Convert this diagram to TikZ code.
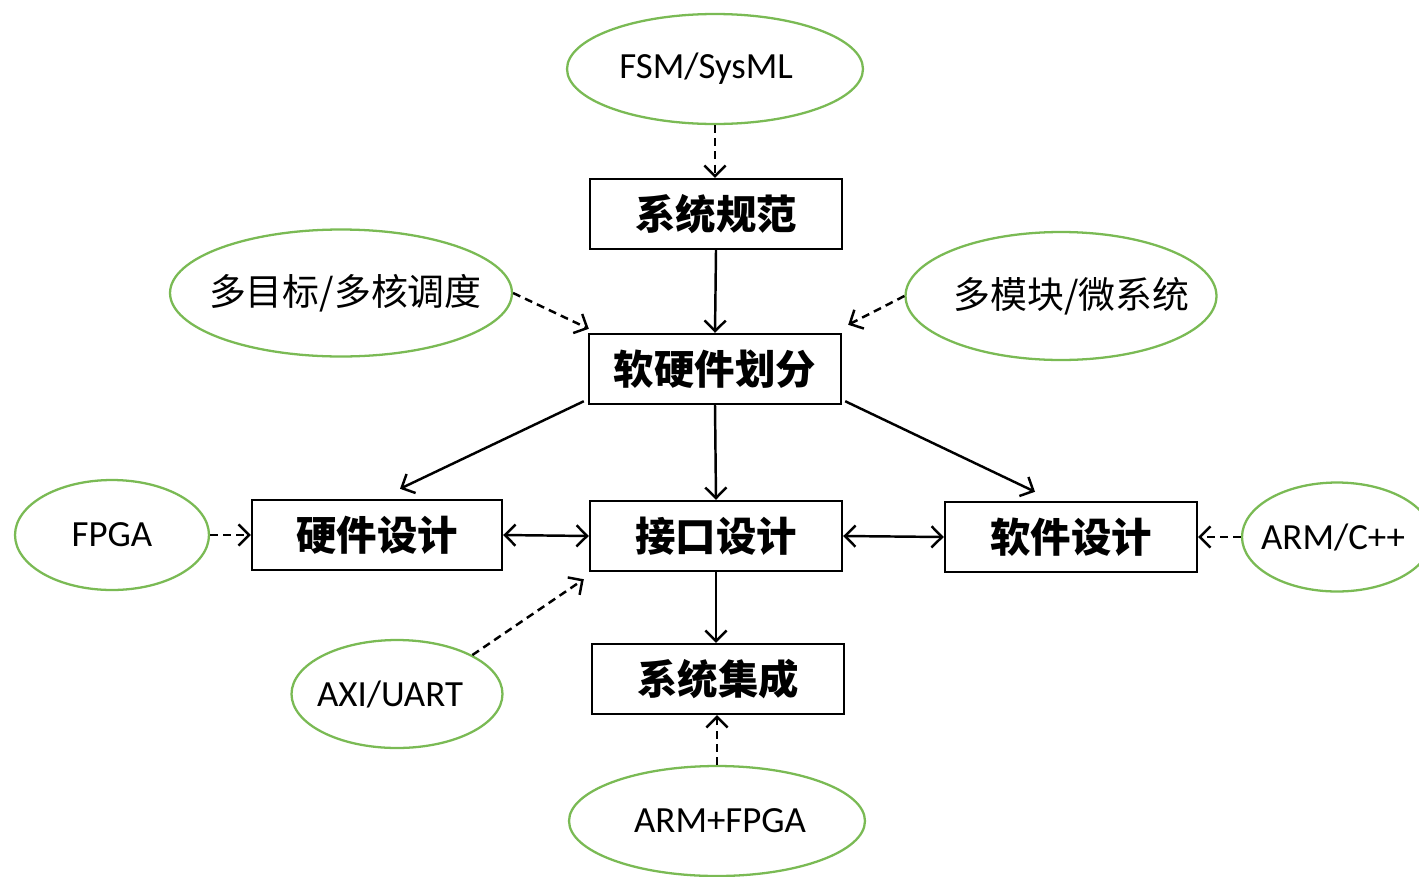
\documentclass[tikz,border=0pt]{standalone}
\usepackage{fontspec}
\setmainfont{Carlito}
\newfontfamily\cjk{Noto Sans CJK SC}
\usetikzlibrary{shapes.geometric,arrows.meta}
\definecolor{egreen}{RGB}{122,186,84}
% keep the label from widening its ellipse
\newcommand\ovtext[1]{\makebox[0pt]{#1}}
\tikzset{
  x=0.02cm, y=-0.02cm,
  tip/.tip={Straight Barb[length=6pt,width=12pt,line width=1.4pt]},
  box/.style={draw, line width=1.4pt, minimum width=5.04cm, minimum height=1.4cm,
    inner sep=0pt, font=\cjk\bfseries\fontsize{23}{26}\selectfont},
  oval/.style={ellipse, draw=egreen, line width=1.3pt, inner sep=0pt,
    font=\fontsize{21}{24}\selectfont},
  flow/.style={line width=1.4pt, -tip},
  both/.style={line width=1.4pt, tip-tip},
  hint/.style={flow, dash pattern=on 4.5pt off 3pt}
}
\begin{document}
\begin{tikzpicture}
\useasboundingbox (0,0) rectangle (1419,876);

% main flow boxes
\node[box] (spec)  at (716,214) {系统规范};
\node[box] (part)  at (715,369) {软硬件划分};
\node[box, minimum width=5.0cm] (hw) at (377,535) {硬件设计};
\node[box] (iface) at (716,536) {接口设计};
\node[box] (sw)    at (1071,537) {软件设计};
\node[box] (integ) at (718,679) {系统集成};

% supporting technologies
\node[oval, minimum width=5.92cm, minimum height=2.2cm]  (fsm)   at (715,69)  {\ovtext{\hspace*{-10pt}FSM/SysML}};
\node[oval, minimum width=6.84cm, minimum height=2.54cm] (multi) at (341,293) {\ovtext{\hspace*{5pt}\cjk 多目标/多核调度}};
\node[oval, minimum width=6.22cm, minimum height=2.56cm] (mod)   at (1061,296) {\ovtext{\hspace*{12pt}\cjk 多模块/微系统}};
\node[oval, minimum width=3.88cm, minimum height=2.2cm]  (fpga)  at (112,535) {\ovtext{FPGA}};
\node[oval, minimum width=3.8cm,  minimum height=2.18cm] (arm)   at (1337,537) {\ovtext{\hspace*{-4.5pt}ARM/C++}};
\node[oval, minimum width=4.22cm, minimum height=2.16cm] (axi)   at (397,694) {\ovtext{\hspace*{-8pt}AXI/UART}};
\node[oval, minimum width=5.92cm, minimum height=2.2cm]  (armf)  at (717,821) {\ovtext{\hspace*{3.5pt}ARM+FPGA}};

% solid connectors
\draw[flow] (spec.south) -- (part.north);
\draw[flow] ([shift={(-4,-4)}]part.south west) -- ([shift={(23,-10)}]hw.north);
\draw[flow] (part.south) -- (iface.north);
\draw[flow] ([shift={(3,-4)}]part.south east) -- ([shift={(-36,-9)}]sw.north);
\draw[both] (hw.east) -- (iface.west);
\draw[both] (iface.east) -- (sw.west);
\draw[flow] (iface.south) -- (iface.south |- integ.north);

% dashed connectors
\draw[hint] (fsm.south) -- (fsm.south |- spec.north);
\draw[hint] (multi.east) -- ([shift={(1,-4)}]part.north west);
\draw[hint] (mod.west) -- ([shift={(6,-8)}]part.north east);
\draw[hint] (fpga.east) -- (hw.west);
\draw[hint] (arm.west) -- (sw.east);
\draw[hint] (axi.north east) -- ([shift={(-5,7)}]iface.south west);
\draw[hint] (armf.north) -- (armf.north |- integ.south);
\end{tikzpicture}
\end{document}
